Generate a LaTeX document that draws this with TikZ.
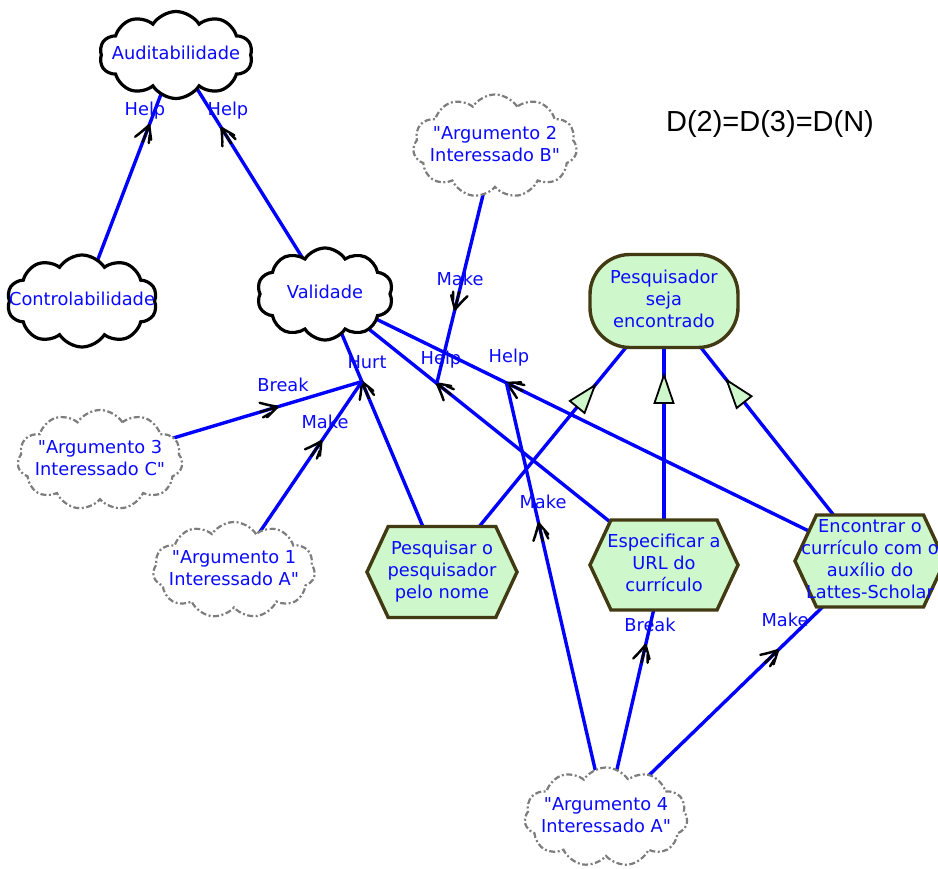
\documentclass[tikz,border=0pt]{standalone}
\usepackage{fontspec}
\setmainfont{DejaVu Sans}
\newfontfamily\arialfont{Liberation Sans}
\usetikzlibrary{shapes.symbols,shapes.misc,decorations.markings,calc}
\pgfdeclarelayer{links}
\pgfsetlayers{links,main}
\definecolor{linkblue}{RGB}{0,0,255}
\definecolor{txtblue}{RGB}{10,10,255}
\definecolor{goalfill}{RGB}{206,247,204}
\definecolor{goalline}{RGB}{66,58,18}
\definecolor{arggray}{RGB}{125,125,125}
% centred multi-line text that does not widen its node
\newcommand\boxtext[1]{\makebox[0pt]{\begin{tabular}{@{}c@{}}#1\end{tabular}}}
\newcommand\qq{\textquotedbl}
\tikzset{
  every node/.style={font=\fontsize{17.8}{22}\selectfont, text=txtblue},
  softgoal/.style={cloud, cloud puffs=10, cloud puff arc=115, cloud ignores aspect,
    draw=black, line width=3.2pt, fill=white, inner sep=0pt},
  argument/.style={cloud, cloud puffs=11, cloud puff arc=115, cloud ignores aspect,
    draw=arggray, line width=2.2pt, dash pattern=on 6pt off 2.5pt on 2pt off 2.5pt,
    fill=white, inner sep=0pt},
  hardgoal/.style={rectangle, rounded corners=40pt, draw=goalline, fill=goalfill,
    line width=3.4pt, inner sep=0pt},
  task/.style={signal, signal to=east and west, signal pointer angle=130,
    draw=goalline, fill=goalfill, line width=3.4pt, inner sep=0pt},
  lbl/.style={inner sep=0pt},
  link/.style={draw=linkblue, line width=3.4pt},
  barb/.style={draw=black, line width=2.4pt, line cap=round, line join=round},
  contrib/.style 2 args={link, postaction={decorate, decoration={markings,
    mark=at position #1 with {\coordinate (#2) at (0,0);
      \draw[barb] (-13,-7) -- (0,0) -- (-13,7) (-18,0) -- (0,0)
        (-6,-3) -- (-16,-9) (-9,4) -- (-17,6);}}}},
  meansend/.style={link, postaction={decorate, decoration={markings,
    mark=at position #1 with {\filldraw[draw=black, fill=goalfill, line width=1.8pt,
      line join=miter] (0,0) -- (-28,-9.5) -- (-28,9.5) -- cycle;}}}},
}
\begin{document}
\begin{tikzpicture}[x=1pt, y=-1pt]
\useasboundingbox (0,0) rectangle (938,869);
\begin{pgfonlayer}{links}
\fill[white] (0,0) rectangle (938,869);
\end{pgfonlayer}
\clip (0,0) rectangle (938,869);

% softgoals
\node[softgoal, minimum width=153pt, minimum height=87pt] (aud) at (176,55) {\boxtext{Auditabilidade}};
\node[softgoal, minimum width=150pt, minimum height=92pt] (ctrl) at (82,301) {\boxtext{Controlabilidade}};
\node[softgoal, minimum width=136pt, minimum height=92pt] (val) at (325,294) {\boxtext{Validade}};

% arguments
\node[argument, minimum width=164pt, minimum height=103pt] (arg2) at (495,146) {\boxtext{\qq Argumento 2\\Interessado B\qq}};
\node[argument, minimum width=165pt, minimum height=100pt] (arg3) at (100,460) {\boxtext{\qq Argumento 3\\Interessado C\qq}};
\node[argument, minimum width=162pt, minimum height=96pt] (arg1) at (234,570) {\boxtext{\qq Argumento 1\\Interessado A\qq}};
\node[argument, minimum width=163pt, minimum height=99pt] (arg4) at (606,817) {\boxtext{\qq Argumento 4\\Interessado A\qq}};

% goal and tasks
\node[hardgoal, minimum width=148pt, minimum height=93pt] (goal) at (664,301) {\boxtext{Pesquisador\\seja\\encontrado}};
\node[task, minimum width=150pt, minimum height=91pt] (pesq) at (442,572) {\boxtext{Pesquisar o\\pesquisador\\pelo nome}};
\node[task, minimum width=148pt, minimum height=90pt] (esp) at (664,565) {\boxtext{Especificar a\\URL do\\currículo}};
\node[task, minimum width=150pt, minimum height=92pt] (enc) at (870,561) {\boxtext{\fontsize{17.8}{19.5}\selectfont Encontrar o\\currículo com o\\auxílio do\\Lattes-Scholar}};

\node[text=black, font=\arialfont\fontsize{29}{34}\selectfont] (dtitle) at (770,124) {D(2)=D(3)=D(N)};

% links, drawn beneath the nodes
\begin{pgfonlayer}{links}
\draw[contrib={-75pt}{tCtrl}] (ctrl.center) -- (aud.center);
\draw[contrib={-86pt}{tVal}] (val.center) -- (aud.center);
\draw[contrib={-143pt}{tEsp}] (esp.center) -- (val.center);
\draw[contrib={-202pt}{tEnc}] (enc.center) -- (val.center);
\draw[contrib={-95pt}{tHurt}] (pesq.center) -- (val.center);
\draw[contrib={-76pt}{tArgB}] (arg2.center) -- (tEsp);
\draw[contrib={-88pt}{tArgC}] (arg3.center) -- (tHurt);
\draw[contrib={-72pt}{tArgA}] (arg1.center) -- (tHurt);
\draw[contrib={-144pt}{tArgDa}] (arg4.center) -- (tEnc);
\draw[contrib={-82pt}{tArgDb}] (arg4.center) -- (esp.center);
\draw[contrib={-128pt}{tArgDc}] (arg4.center) -- (enc.center);
\draw[meansend={-109pt}] (pesq.center) -- (goal.center);
\draw[meansend={-74pt}] (esp.center) -- (goal.center);
\draw[meansend={-101pt}] (enc.center) -- (goal.center);
\end{pgfonlayer}

% link labels
\node[lbl] (lb1) at (145,111) {Help};
\node[lbl] (lb2) at (228,111) {Help};
\node[lbl] (lb3) at (460,279) {Make};
\node[lbl] (lb4) at (441,360) {Help};
\node[lbl] (lb5) at (509,358) {Help};
\node[lbl] (lb6) at (367,362) {Hurt};
\node[lbl] (lb7) at (283,385) {Break};
\node[lbl] (lb8) at (325,422) {Make};
\node[lbl] (lb9) at (543,502) {Make};
\node[lbl] (lb10) at (650,625) {Break};
\node[lbl] (lb11) at (785,620) {Make};
\end{tikzpicture}
\end{document}
